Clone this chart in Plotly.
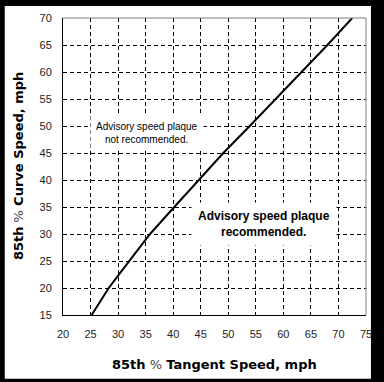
import plotly.graph_objects as go

tangent_speed = [25.2, 28.3, 30.0, 32.0, 35.8, 40.2, 44.7, 49.1, 53.9, 58.6, 63.3, 68.0, 72.5]
curve_speed = [15, 20, 22.3, 25, 30, 35, 40, 45, 50, 55, 60, 65, 70]
x_ticks = list(range(20, 80, 5))
y_ticks = list(range(15, 75, 5))

W, H = 384, 382
L, R, T, B = 63, 14, 17, 67
pw, ph = W - L - R, H - T - B

def px_x(p):
    return (p - L) / pw

def px_y(p):
    return (H - B - p) / ph

fig = go.Figure()
fig.add_trace(go.Scatter(x=tangent_speed, y=curve_speed, mode="lines",
                         line=dict(color="black", width=2), showlegend=False,
                         hoverinfo="skip"))

axis_common = dict(showgrid=True, gridcolor="black", gridwidth=1, griddash="4px,3px",
                   showline=True, linecolor="black", linewidth=1, zeroline=False,
                   ticks="", tickfont=dict(family="Liberation Sans, Arial", size=11, color="#222"))

fig.update_xaxes(range=[20, 75], tickvals=x_ticks, ticklabelstandoff=9, **axis_common)
fig.update_yaxes(range=[15, 70], tickvals=y_ticks, ticklabelstandoff=8, **axis_common)

shapes = [
    dict(type="rect", xref="paper", yref="paper", layer="below",
         x0=px_x(4), x1=px_x(375), y0=px_y(379), y1=px_y(5),
         fillcolor="white", line=dict(width=0)),
    dict(type="line", xref="paper", yref="paper", x0=0, x1=1, y0=1, y1=1,
         line=dict(color="#808080", width=1)),
    dict(type="line", xref="paper", yref="paper", x0=1, x1=1, y0=0, y1=1,
         line=dict(color="#808080", width=1)),
]

title_font = dict(family="DejaVu Sans", size=13, color="black")
annotations = [
    dict(x=35.2, y=48.7, xref="x", yref="y", showarrow=False,
         text="Advisory speed plaque<br>not recommended.",
         font=dict(family="Liberation Sans, Arial", size=10, color="black"),
         bgcolor="white", borderpad=5, align="center"),
    dict(x=56.4, y=31.8, xref="x", yref="y", showarrow=False,
         text="<b>Advisory speed plaque<br>recommended.</b>",
         font=dict(family="Liberation Sans, Arial", size=12, color="black"),
         bgcolor="white", borderpad=6, align="center"),
    dict(x=0.5, y=px_y(365), xref="paper", yref="paper", showarrow=False,
         text="<b>85th</b> <span style='color:#444'>%</span> <b>Tangent Speed, mph</b>",
         font=title_font, xanchor="center", yanchor="middle"),
    dict(x=px_x(18), y=0.5, xref="paper", yref="paper", showarrow=False,
         text="<b>85th</b> <span style='color:#444'>%</span> <b>Curve Speed, mph</b>", textangle=-90,
         font=title_font, xanchor="center", yanchor="middle"),
]

fig.update_layout(width=W, height=H, margin=dict(l=L, r=R, t=T, b=B),
                  paper_bgcolor="black", plot_bgcolor="white",
                  shapes=shapes, annotations=annotations, showlegend=False)

fig.write_html("out.html", config={"displayModeBar": False},
               post_script="document.body.style.margin='0';document.body.style.overflow='hidden';")
